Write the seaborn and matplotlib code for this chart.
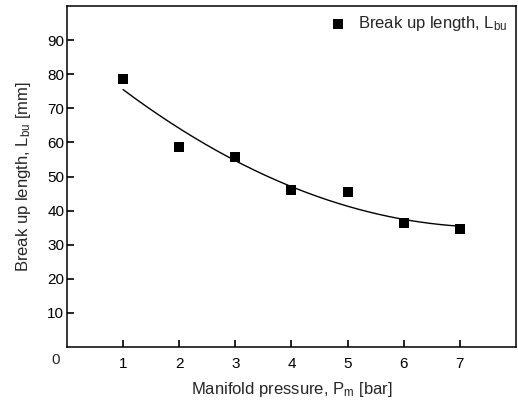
import numpy as np
import pandas as pd
import matplotlib
matplotlib.use("Agg")
import matplotlib.pyplot as plt
import seaborn as sns

pressure = [1, 2, 3, 4, 5, 6, 7]
breakup_length = [78.6, 58.7, 55.7, 46.0, 45.4, 36.4, 34.6]
x_ticks = [1, 2, 3, 4, 5, 6, 7]
y_ticks = [10, 20, 30, 40, 50, 60, 70, 80, 90]

sns.set_theme(style="ticks")
plt.rcParams['font.family'] = ['Liberation Sans', 'DejaVu Sans']
plt.rcParams['mathtext.fontset'] = 'custom'
plt.rcParams['mathtext.rm'] = 'Liberation Sans'
plt.rcParams['mathtext.it'] = 'Liberation Sans'
plt.rcParams['xtick.direction'] = 'in'
plt.rcParams['ytick.direction'] = 'in'

df = pd.DataFrame({"P": pressure, "L": breakup_length})

# quadratic fit curve
coef = np.polyfit(pressure, breakup_length, 2)
xf = np.linspace(1, 7, 200)
fit = pd.DataFrame({"P": xf, "L": np.polyval(coef, xf)})

fig = plt.figure(figsize=(5.18, 4.01), dpi=100)
ax = fig.add_axes([0.1293, 0.1347, 0.8668, 0.8503])

sns.lineplot(data=fit, x="P", y="L", ax=ax, color="black", linewidth=1.0, legend=False)
sns.scatterplot(data=df, x="P", y="L", ax=ax, marker="s", s=42, color="black",
                edgecolor="black", linewidth=0, label=r"Break up length, L$_{\mathrm{bu}}$", zorder=3)

ax.set_xlim(0, 8)
ax.set_ylim(0, 100)
ax.set_xticks(x_ticks)
ax.set_yticks(y_ticks)
ax.tick_params(axis="both", which="major", direction="in", length=5, width=1.2,
               labelsize=11, color="black", labelcolor="black",
               bottom=True, left=True, top=False, right=False)
ax.tick_params(axis="x", pad=7)
ax.tick_params(axis="y", pad=2)
for s in ax.spines.values():
    s.set_linewidth(1.1)
    s.set_color("black")

ax.text(-0.015, -0.018, "0", transform=ax.transAxes, ha="right", va="top", fontsize=11)

ax.set_xlabel(r"Manifold pressure, P$_{\mathrm{m}}$ [bar]", fontsize=12, labelpad=7)
ax.set_ylabel(r"Break up length, L$_{\mathrm{bu}}$ [mm]", fontsize=12, labelpad=10)

leg = ax.legend(loc="upper right", frameon=False, fontsize=12, handletextpad=0.6,
                handlelength=1.2, borderaxespad=0.2, borderpad=0.3, markerscale=1.0)

fig.savefig("out.png", dpi=100)
